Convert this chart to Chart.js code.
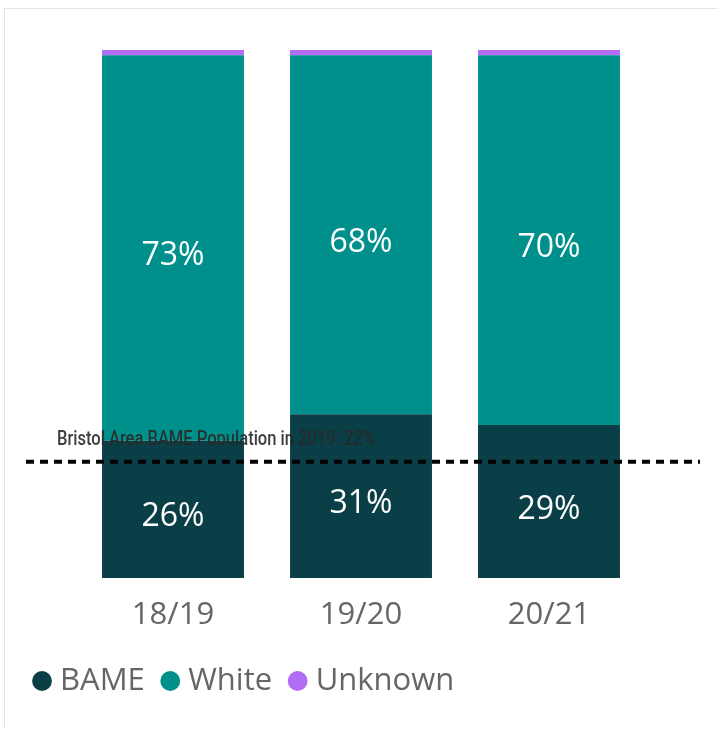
<!DOCTYPE html>
<html>
<head>
<meta charset="utf-8">
<script src="https://cdn.jsdelivr.net/npm/chart.js@4.4.0/dist/chart.umd.min.js"></script>
<style>
  body { margin: 0; background: #fff; overflow: hidden; }
  #wrap { position: relative; width: 717px; height: 729px; }
  #frame { position: absolute; left: 4px; top: 8px; width: 800px; height: 800px; border: 1px solid #e3e3e3; box-sizing: border-box; }
  canvas { position: absolute; left: 0; top: 0; }
</style>
</head>
<body>
<div id="wrap">
  <div id="frame"></div>
  <canvas id="chart" width="717" height="729"></canvas>
</div>
<script>
// data (percent of each year)
const years = ["18/19", "19/20", "20/21"];
const bame = [26, 31, 29];
const white = [73, 68, 70];
const unknown = [1, 1, 1];
const bristolBame = 22;
const refLabel = "Bristol Area BAME Population in 2019: 22%";

// draws the % labels inside the bars and the dotted reference line
const extras = {
  id: "extras",
  afterDatasetsDraw(chart) {
    const ctx = chart.ctx;
    ctx.save();
    ctx.fillStyle = "#fff";
    ctx.font = "32px 'Open Sans'";
    ctx.textAlign = "center";
    ctx.textBaseline = "middle";
    [0, 1].forEach((di) => {
      const meta = chart.getDatasetMeta(di);
      meta.data.forEach((bar, i) => {
        const v = chart.data.datasets[di].data[i];
        ctx.fillText(v + "%", bar.x, (bar.y + bar.base) / 2 + 8);
      });
    });

    const y = chart.scales.y.getPixelForValue(bristolBame);
    ctx.strokeStyle = "#000";
    ctx.lineWidth = 4;
    ctx.setLineDash([8, 6]);
    ctx.beginPath();
    ctx.moveTo(26, y);
    ctx.lineTo(chart.width - 17, y);
    ctx.stroke();

    ctx.fillStyle = "rgba(40,40,40,0.9)";
    ctx.font = "500 21px Roboto";
    ctx.textAlign = "left";
    ctx.textBaseline = "alphabetic";
    ctx.fillText(refLabel, 57, y - 17, 318);
    ctx.restore();
  },
};

new Chart(document.getElementById("chart"), {
  type: "bar",
  data: {
    labels: years,
    datasets: [
      { label: "BAME", data: bame, backgroundColor: "#0b3f47" },
      { label: "White", data: white, backgroundColor: "#00908c" },
      { label: "Unknown", data: unknown, backgroundColor: "#b36cf5" },
    ],
  },
  options: {
    responsive: false,
    animation: false,
    devicePixelRatio: 1,
    layout: { padding: { top: 50, left: 16.5, right: 74, bottom: 22.5 } },
    datasets: { bar: { categoryPercentage: 1, barPercentage: 0.755 } },
    scales: {
      x: {
        stacked: true,
        grid: { display: false, drawTicks: false },
        border: { display: false },
        ticks: { color: "#666", padding: 19, font: { family: "'Open Sans'", size: 31 } },
        afterFit: (s) => { s.height = 64.5; },
      },
      y: {
        stacked: true,
        min: 0,
        max: 100,
        grid: { display: false, drawTicks: false },
        border: { display: false },
        ticks: { display: false },
        afterFit: (s) => { s.width = 79 - 16.5; },
      },
    },
    plugins: {
      tooltip: { enabled: false },
      legend: {
        position: "bottom",
        align: "start",
        labels: {
          usePointStyle: true,
          pointStyle: "circle",
          boxWidth: 5,
          boxHeight: 14,
          padding: 23,
          color: "#666",
          font: { family: "'Open Sans'", size: 31 },
        },
      },
    },
  },
  plugins: [extras],
});
</script>
</body>
</html>
